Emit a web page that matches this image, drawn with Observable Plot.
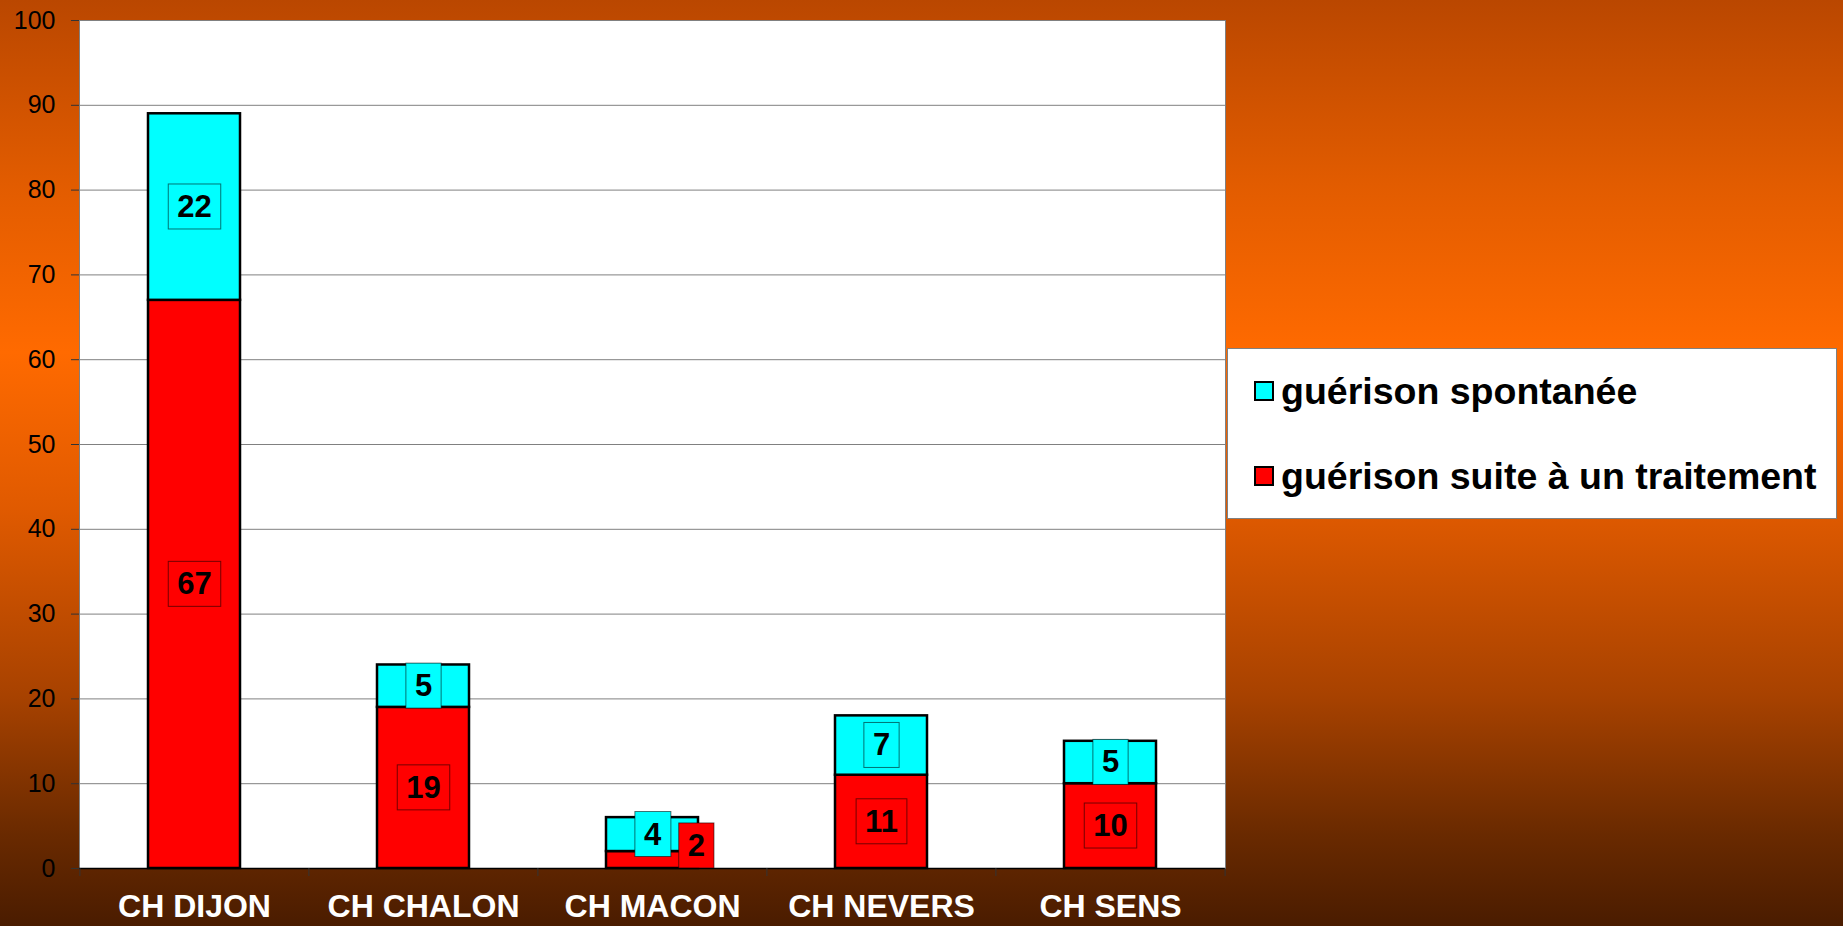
<!DOCTYPE html>
<html><head><meta charset="utf-8">
<script src="https://cdn.jsdelivr.net/npm/d3@7"></script>
<script src="https://cdn.jsdelivr.net/npm/@observablehq/plot@0.6"></script>
<style>
html,body{margin:0;padding:0;}
body{width:1843px;height:926px;overflow:hidden;position:relative;
  background:linear-gradient(to bottom,#BA4700 0%,#E25C00 20%,#FF6A00 38%,#E05A00 55%,#A84200 75%,#6A2A00 90%,#4A1C00 100%);
  font-family:"Liberation Sans",Arial,sans-serif;}
#chart{position:absolute;left:0;top:0;}
#legend{position:absolute;left:1227px;top:348px;width:608px;height:169px;background:#fff;border:1px solid #808080;}
.item{position:absolute;left:26px;height:40px;display:flex;align-items:center;font-weight:bold;font-size:37.5px;color:#000;white-space:nowrap;}
.sw{width:16px;height:16px;border:2px solid #000;margin-right:7px;}
</style></head><body>
<div id="chart"></div>
<div id="legend"></div>
<script>
// ---- data ----
const centres = ["CH DIJON", "CH CHALON", "CH MACON", "CH NEVERS", "CH SENS"];
const traitement = [67, 19, 2, 11, 10];
const spontanee = [22, 5, 4, 7, 5];
const seriesNames = ["guérison suite à un traitement", "guérison spontanée"];
const seriesColors = ["#FF0000", "#00FFFF"];
const yTicks = [0, 10, 20, 30, 40, 50, 60, 70, 80, 90, 100];

// ---- layout ----
const W = 1843, H = 926, mL = 79, mR = 618, mT = 20, mB = 58;
const step = (W - mL - mR) / centres.length;
const bw = step * 0.4;

// stacked rows (traitement bottom, spontanée on top)
const rows = [];
centres.forEach((c, i) => {
  rows.push({centre: c, serie: seriesNames[0], value: traitement[i], y1: 0, y2: traitement[i]});
  rows.push({centre: c, serie: seriesNames[1], value: spontanee[i], y1: traitement[i], y2: traitement[i] + spontanee[i]});
});
rows.forEach(r => r.mid = (r.y1 + r.y2) / 2);
const normalRed = rows.filter(r => r.serie === seriesNames[0] && r.value >= 3);
const smallRed = rows.filter(r => r.serie === seriesNames[0] && r.value < 3);
const cyanRows = rows.filter(r => r.serie === seriesNames[1]);

const labelStyle = {fontSize: 31, fontWeight: "bold", fill: "black"};

const plot = Plot.plot({
  width: W, height: H,
  marginLeft: mL, marginRight: mR, marginTop: mT, marginBottom: mB,
  style: {background: "transparent", fontFamily: "'Liberation Sans', Arial, sans-serif", overflow: "visible"},
  x: {domain: centres, paddingInner: 0.6, paddingOuter: 0.3, label: null},
  y: {domain: [0, 100], label: null},
  color: {domain: seriesNames, range: seriesColors},
  marks: [
    Plot.frame({fill: "white", stroke: "#808080"}),
    Plot.gridY({ticks: yTicks, stroke: "#808080", strokeOpacity: 1}),
    Plot.barY(rows, {x: "centre", y1: "y1", y2: "y2", fill: "serie", stroke: "black", strokeWidth: 2.5}),
    Plot.ruleY([0], {stroke: "black", strokeWidth: 1.5}),
    Plot.ruleX(centres, {x: d => d, y1: 0, y2: 0, insetBottom: -8, dx: -step / 2, stroke: "#333"}),
    Plot.ruleX([centres[centres.length - 1]], {x: d => d, y1: 0, y2: 0, insetBottom: -8, dx: step / 2, stroke: "#333"}),
    Plot.axisY({ticks: yTicks, tickSize: 8, tickPadding: 16, fontSize: 25, stroke: "#333", fill: "black"}),
    Plot.axisX({tickSize: 0, tickPadding: 26, fontSize: 32, fontWeight: "bold", fill: "white"}),
    Plot.text(normalRed, {x: "centre", y: "mid", text: d => String(d.value), ...labelStyle, className: "lbl-red"}),
    Plot.text(smallRed, {x: "centre", y: "mid", text: d => String(d.value), ...labelStyle, dx: bw / 2 - 2, dy: -14, className: "lbl-red"}),
    Plot.text(cyanRows, {x: "centre", y: "mid", text: d => String(d.value), ...labelStyle, className: "lbl-cyan"})
  ]
});
document.getElementById("chart").appendChild(plot);

// label boxes behind the value labels
function boxes(cls, color) {
  plot.querySelectorAll("g." + cls + " text").forEach(t => {
    const b = t.getBBox();
    const padX = 9, h = 45;
    const cy = b.y + b.height / 2;
    const r = document.createElementNS("http://www.w3.org/2000/svg", "rect");
    r.setAttribute("x", b.x - padX);
    r.setAttribute("y", cy - h / 2);
    r.setAttribute("width", b.width + 2 * padX);
    r.setAttribute("height", h);
    r.setAttribute("fill", color);
    r.setAttribute("stroke", "rgba(0,0,0,0.55)");
    r.setAttribute("stroke-width", 1);
    const tr = t.getAttribute("transform");
    if (tr) r.setAttribute("transform", tr);
    t.parentNode.insertBefore(r, t);
  });
}
boxes("lbl-red", seriesColors[0]);
boxes("lbl-cyan", seriesColors[1]);

// legend
const legend = document.getElementById("legend");
[[seriesNames[1], seriesColors[1], 22], [seriesNames[0], seriesColors[0], 107]].forEach(([name, col, top]) => {
  const it = document.createElement("div");
  it.className = "item";
  it.style.top = top + "px";
  const sw = document.createElement("span");
  sw.className = "sw";
  sw.style.background = col;
  const tx = document.createElement("span");
  tx.textContent = name;
  it.appendChild(sw); it.appendChild(tx);
  legend.appendChild(it);
});
</script>
</body></html>
